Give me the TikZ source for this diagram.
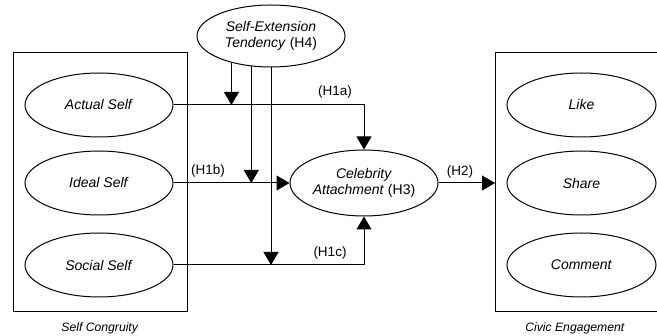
\documentclass[tikz,border=0pt]{standalone}
\usepackage{fontspec}
\setmainfont{Liberation Sans}
\usetikzlibrary{arrows.meta, shapes.geometric}
\def\Actual{\textit{Actual Self}}
\def\Ideal{\textit{Ideal Self}}
\def\Social{\textit{Social Self}}
\def\Extension{\textit{Self-Extension}\\\textit{Tendency} (H4)}
\def\Attachment{\textit{Celebrity}\\\textit{Attachment} (H3)}
\def\Like{\textit{Like}}
\def\Share{\textit{Share}}
\def\Comment{\textit{Comment}}
\def\Congruity{\textit{Self Congruity}}
\def\Engagement{\textit{Civic Engagement}}

\begin{document}
\begin{tikzpicture}[x=1pt, y=-1pt, line width=1pt,
    construct/.style={ellipse, draw, minimum width=148pt, minimum height=64pt,
        inner sep=0pt, align=center, font=\fontsize{14}{16.5}\selectfont},
    hyp/.style={font=\fontsize{13.5}{15}\selectfont},
    caption/.style={font=\fontsize{12.2}{14}\selectfont},
    effect/.style={-{Triangle[width=15pt,length=13pt]}}]
    \useasboundingbox (0,0) rectangle (657,336);

    \draw (13,53) rectangle (187,312);
    \draw (495,53) rectangle (700,312);
    \node[caption] (congruity) at (100,328) {\Congruity};
    \node[caption] (engagement) at (575,328) {\Engagement};

    \node[construct] (actual) at (99,105) {\Actual};
    \node[construct] (ideal) at (99,183) {\Ideal};
    \node[construct] (social) at (99,265) {\Social};
    \node[construct, minimum height=62pt] (extension) at (271,36) {\Extension};
    \node[construct, minimum height=66pt] (attachment) at (364,183) {\Attachment};
    \node[construct, minimum width=149pt] (like) at (581.5,105) {\Like};
    \node[construct, minimum width=149pt] (share) at (581.5,183) {\Share};
    \node[construct, minimum width=149pt] (comment) at (581.5,265) {\Comment};
    \coordinate (boxin) at (495,183);

    \draw[effect] (actual.east) -| (attachment.north);
    \draw[effect] (ideal.east) -- (attachment.west);
    \draw[effect] (social.east) -| (attachment.south);
    \draw[effect] (attachment.east) -- (boxin);

    \draw[effect] (extension.214) -- (extension.214 |- actual.east);
    \draw[effect] (extension.237.6) -- (extension.237.6 |- ideal.east);
    \draw[effect] (extension.south) -- (extension.south |- social.east);

    \node[hyp] (h1a) at (335,92) {(H1a)};
    \node[hyp] (h1b) at (208,171) {(H1b)};
    \node[hyp] (h1c) at (330,253) {(H1c)};
    \node[hyp] (h2) at (460,172) {(H2)};
\end{tikzpicture}
\end{document}
